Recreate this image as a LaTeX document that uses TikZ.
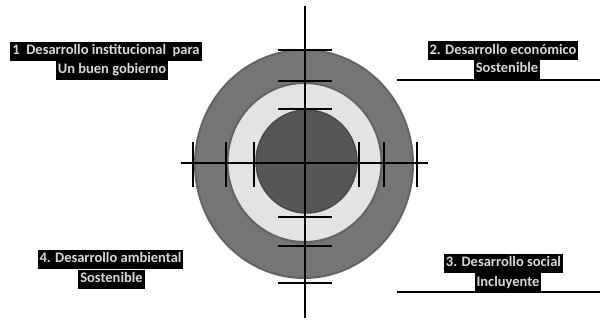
\documentclass[tikz,border=0pt]{standalone}
\usepackage{fontspec}
\setmainfont{Carlito}
\definecolor{outerg}{HTML}{757575}
\definecolor{outerd}{HTML}{636363}
\definecolor{midg}{HTML}{E3E3E3}
\definecolor{innerg}{HTML}{565656}
\definecolor{txtg}{HTML}{D8D8D8}
\tikzset{
  lbl/.style={fill=black, text=txtg, inner xsep=2pt, inner ysep=0pt, text height=11pt, text depth=4pt, minimum height=19pt, font=\fontsize{14.5}{16}\selectfont\bfseries},
  axis/.style={line width=2.6pt, black},
  tick/.style={line width=2.6pt, black},
  rule/.style={line width=2pt, black}
}
\begin{document}
\begin{tikzpicture}[x=1pt,y=-1pt]
\useasboundingbox (0,0) rectangle (600,320);
% rings
\fill[outerg, draw=outerd, line width=2pt] (304,164) ellipse [x radius=109, y radius=114];
\fill[midg, draw=outerd, line width=2pt] (304.5,162.5) ellipse [x radius=77, y radius=79.5];
\fill[innerg, draw=innerg!85!black, line width=1.5pt] (306.5,161.5) ellipse [x radius=50.5, y radius=51.5];
% axes
\coordinate (vt) at (305,6);
\coordinate (vb) at (305,318);
\coordinate (hl) at (181,163);
\coordinate (hr) at (428,163);
\draw[axis] (vt) -- (vb);
\draw[axis] (hl) -- (hr);
% ticks on vertical axis
\foreach \y in {50,81,109,217,246,283}{
  \draw[tick] (278,\y) -- (332,\y);
}
% ticks on horizontal axis
\foreach \x in {193,226,254,359,384,417}{
  \draw[tick] (\x,142) -- (\x,187);
}
% rules under right labels
\coordinate (r2a) at (397,80);
\coordinate (r2b) at (600,80);
\coordinate (r3a) at (397,292);
\coordinate (r3b) at (600,292);
\draw[rule] (r2a) -- (r2b);
\draw[rule] (r3a) -- (r3b);
% labels
\node[lbl] (l1a) at (106,51.5) {1\ \ Desarrollo institucional\ \ para};
\node[lbl] (l1b) at (112,70.5) {Un buen gobierno};
\node[lbl] (l2a) at (503,51) {2. Desarrollo económico};
\node[lbl] (l2b) at (507,69.5) {Sostenible};
\node[lbl] (l4a) at (110.5,259.5) {4. Desarrollo ambiental};
\node[lbl] (l4b) at (111.5,279.5) {Sostenible};
\node[lbl] (l3a) at (503.5,263.5) {3. Desarrollo social};
\node[lbl] (l3b) at (508,283) {Incluyente};
\end{tikzpicture}
\end{document}
